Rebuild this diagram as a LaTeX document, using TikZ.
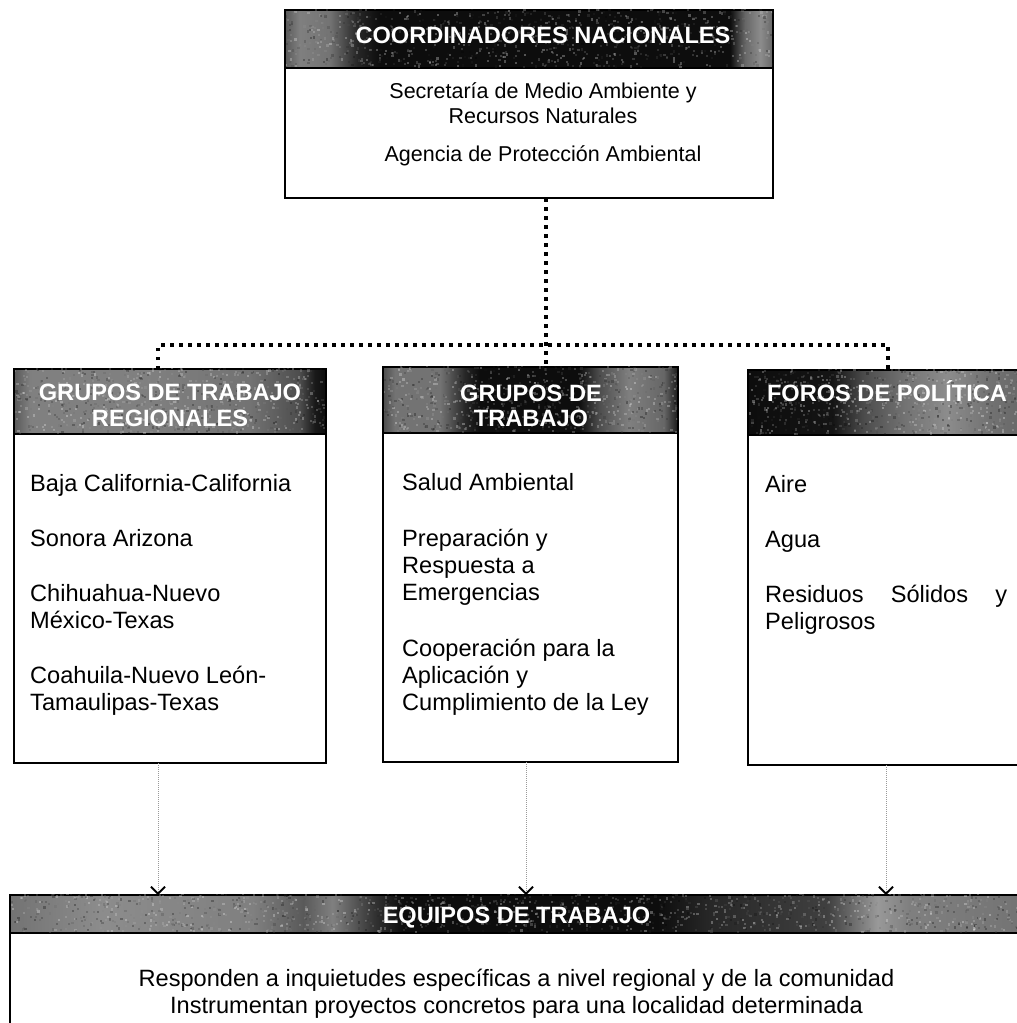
\documentclass[tikz,border=0pt]{standalone}
\usepackage{fontspec}
\setmainfont{Liberation Sans}
\usetikzlibrary{arrows.meta}

% header shadings (25bp..75bp = left..right edge of the header)
\pgfdeclarehorizontalshading{shtop}{100bp}{%
 color(0bp)=(black!65); color(25bp)=(black!65); color(26.5bp)=(black!50);
 color(29.6bp)=(black!55); color(32.4bp)=(black!85); color(34.7bp)=(black!95);
 color(70.6bp)=(black!95); color(72.1bp)=(black!60); color(73.7bp)=(black!45);
 color(75bp)=(black!60); color(100bp)=(black!60)}
\pgfdeclarehorizontalshading{shleft}{100bp}{%
 color(0bp)=(black!65); color(25bp)=(black!65); color(27.6bp)=(black!50);
 color(46.8bp)=(black!50); color(62.8bp)=(black!55); color(70.8bp)=(black!70);
 color(73.2bp)=(black!90); color(75bp)=(black!95); color(100bp)=(black!95)}
\pgfdeclarehorizontalshading{shmid}{100bp}{%
 color(0bp)=(black!70); color(25bp)=(black!70); color(27bp)=(black!55);
 color(34.7bp)=(black!55); color(38.9bp)=(black!85); color(41.4bp)=(black!95);
 color(58.2bp)=(black!95); color(61.6bp)=(black!70); color(66.7bp)=(black!50);
 color(72.6bp)=(black!60); color(75bp)=(black!90); color(100bp)=(black!90)}
\pgfdeclarehorizontalshading{shright}{100bp}{%
 color(0bp)=(black!95); color(25bp)=(black!95); color(39.5bp)=(black!92);
 color(44.9bp)=(black!70); color(51.9bp)=(black!55); color(59bp)=(black!45);
 color(66.1bp)=(black!55); color(72.7bp)=(black!60); color(75bp)=(black!60);
 color(100bp)=(black!60)}
\pgfdeclarehorizontalshading{shbottom}{100bp}{%
 color(0bp)=(black!55); color(25bp)=(black!55); color(29.4bp)=(black!45);
 color(36.7bp)=(black!50); color(39.1bp)=(black!65); color(40.5bp)=(black!50);
 color(42.5bp)=(black!80); color(43.9bp)=(black!95); color(56.1bp)=(black!95);
 color(58.5bp)=(black!85); color(64.3bp)=(black!75); color(66.7bp)=(black!40);
 color(68.2bp)=(black!50); color(73.9bp)=(black!55); color(75bp)=(black!55);
 color(100bp)=(black!55)}

\tikzset{
 box/.style={draw=black, line width=1.6pt, fill=white, rectangle, inner sep=0pt, outer sep=0pt, anchor=north west},
 hdr/.style={draw=black, line width=1.8pt, rectangle, inner sep=0pt, outer sep=0pt, anchor=north west},
 hdrtext/.style={text=white, font=\fontsize{23.6}{26}\selectfont\bfseries, anchor=base, inner sep=0pt},
 bodyl/.style={font=\fontsize{23.6}{27}\selectfont, anchor=base west, inner sep=0pt},
 bodyc/.style={font=\fontsize{23.6}{27}\selectfont, anchor=base, inner sep=0pt},
 topc/.style={font=\fontsize{21.5}{25}\selectfont, anchor=base, inner sep=0pt},
 dotline/.style={line width=3.5pt, dash pattern=on 3.5pt off 5.5pt},
 arr/.style={draw=black!40, line width=0.9pt, dash pattern=on 1pt off 1pt,
   -{Straight Barb[length=7pt,width=14pt,line width=1.8pt,black]}}
}

% speckle texture inside a header node: #1 node name, #2 count
\newcommand{\speckle}[2]{%
 \begin{scope}
  \clip ([shift={(1,-1)}]#1.north west) rectangle ([shift={(-1,1)}]#1.south east);
  \path (#1.north west); \pgfgetlastxy{\spx}{\spy}
  \path (#1.south east); \pgfgetlastxy{\sqx}{\sqy}
  \foreach \k in {1,...,#2}{%
   \pgfmathsetmacro\ux{\spx+(\sqx-\spx)*rnd}%
   \pgfmathsetmacro\uy{\spy+(\sqy-\spy)*rnd}%
   \pgfmathsetmacro\ug{int(100*rnd)}%
   \fill[black!\ug, opacity=0.3] (\ux pt,\uy pt) rectangle ++(2.2pt,2.2pt);
  }
 \end{scope}}

\begin{document}
\begin{tikzpicture}[x=1pt,y=-1pt]
\pgfmathsetseed{7}
\useasboundingbox[fill=white] (0,0) rectangle (1017,1023);

% ---- top box
\node[box, minimum width=488, minimum height=188] (topbox) at (285,10) {};
\node[hdr, shading=shtop, minimum width=488, minimum height=58] (tophdr) at (285,10) {};
\speckle{tophdr}{900}
\node[hdrtext] (toptitle) at (543,43.5) {COORDINADORES NACIONALES};
\node[topc] (t1) at (543,98) {Secretaría de Medio Ambiente y};
\node[topc] (t2) at (543,123) {Recursos Naturales};
\node[topc] (t3) at (543,161) {Agencia de Protección Ambiental};

% ---- left box
\node[box, minimum width=312, minimum height=394] (leftbox) at (14,369) {};
\node[hdr, shading=shleft, minimum width=312, minimum height=65] (lefthdr) at (14,369) {};
\speckle{lefthdr}{800}
\node[hdrtext] (lh1) at (170,400.5) {GRUPOS DE TRABAJO};
\node[hdrtext] (lh2) at (170,426.5) {REGIONALES};
\node[bodyl] (l1) at (30,491) {Baja California-California};
\node[bodyl] (l2) at (30,546) {Sonora Arizona};
\node[bodyl] (l3) at (30,601) {Chihuahua-Nuevo};
\node[bodyl] (l4) at (30,628) {México-Texas};
\node[bodyl] (l5) at (30,683) {Coahuila-Nuevo León-};
\node[bodyl] (l6) at (30,710) {Tamaulipas-Texas};

% ---- middle box
\node[box, minimum width=295, minimum height=395] (midbox) at (383,367) {};
\node[hdr, shading=shmid, minimum width=295, minimum height=66] (midhdr) at (383,367) {};
\speckle{midhdr}{760}
\node[hdrtext] (mh1) at (531,401.5) {GRUPOS DE};
\node[hdrtext] (mh2) at (531,426.5) {TRABAJO};
\node[bodyl] (m1) at (402,490) {Salud Ambiental};
\node[bodyl] (m2) at (402,546) {Preparación y};
\node[bodyl] (m3) at (402,573) {Respuesta a};
\node[bodyl] (m4) at (402,600) {Emergencias};
\node[bodyl] (m5) at (402,656) {Cooperación para la};
\node[bodyl] (m6) at (402,683) {Aplicación y};
\node[bodyl] (m7) at (402,710) {Cumplimiento de la Ley};

% ---- right box
\node[box, minimum width=292, minimum height=395] (rightbox) at (748,370) {};
\node[hdr, shading=shright, minimum width=292, minimum height=65] (righthdr) at (748,370) {};
\speckle{righthdr}{760}
\node[hdrtext] (rh1) at (887,401.5) {FOROS DE POLÍTICA};
\node[bodyl] (r1) at (765,492) {Aire};
\node[bodyl] (r2) at (765,547) {Agua};
\node[bodyl] (r3) at (765,602) {\makebox[242pt][s]{Residuos Sólidos y}};
\node[bodyl] (r4) at (765,629) {Peligrosos};

% ---- bottom box
\node[box, minimum width=1040, minimum height=200] (botbox) at (10,895) {};
\node[hdr, shading=shbottom, minimum width=1040, minimum height=38] (bothdr) at (10,895) {};
\speckle{bothdr}{1400}
\node[hdrtext] (bh) at (516.5,923.5) {EQUIPOS DE TRABAJO};
\node[bodyc] (b1) at (516.5,986.5) {Responden a inquietudes específicas a nivel regional y de la comunidad};
\node[bodyc] (b2) at (516.5,1013.5) {Instrumentan proyectos concretos para una localidad determinada};

% ---- dotted hierarchy connectors
\coordinate (hub) at (546,345);
\coordinate (jl) at (158,345);
\coordinate (jr) at (888,345);
\draw[dotline] (topbox.south -| hub) -- (midhdr.north -| hub);
\draw[dotline] (lefthdr.north -| jl) -- (jl) -- (jr) -- (righthdr.north -| jr);

% ---- arrows to bottom box
\coordinate (e1) at (158,895);
\coordinate (e2) at (526,895);
\coordinate (e3) at (886,895);
\draw[arr] (leftbox.south -| e1) -- (e1);
\draw[arr] (midbox.south -| e2) -- (e2);
\draw[arr] (rightbox.south -| e3) -- (e3);
\end{tikzpicture}
\end{document}
